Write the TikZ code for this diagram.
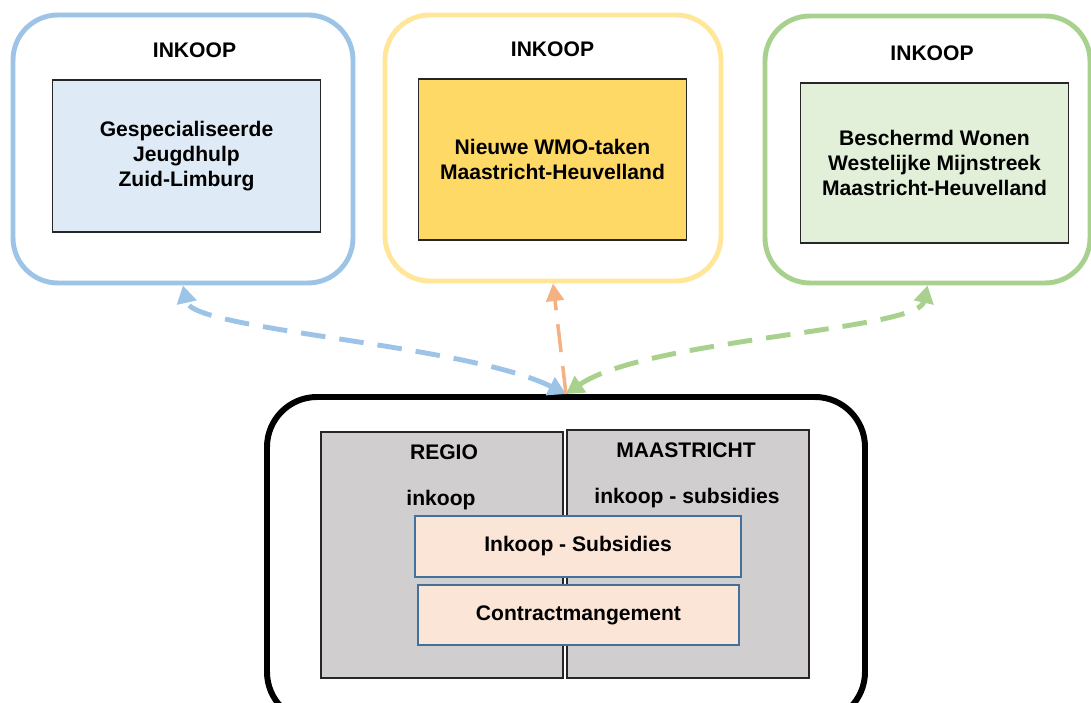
\documentclass[tikz,border=0pt]{standalone}
\usepackage{fontspec}
\setmainfont{Liberation Sans}
\usetikzlibrary{positioning,arrows.meta}
\definecolor{blueline}{HTML}{9DC3E6}
\definecolor{yellowline}{HTML}{FFE699}
\definecolor{greenline}{HTML}{A9D18E}
\definecolor{orangeline}{HTML}{F4B183}
\definecolor{bluefill}{HTML}{DEEBF7}
\definecolor{yellowfill}{HTML}{FFD966}
\definecolor{greenfill}{HTML}{E2F0D9}
\definecolor{grayfill}{HTML}{D0CECE}
\definecolor{taskfill}{HTML}{FBE5D6}
\definecolor{taskline}{HTML}{41719C}

\begin{document}
\begin{tikzpicture}[font=\bfseries\fontsize{12}{14.2}\selectfont]
  \tikzstyle{frame}=[draw,line width=2.8pt,rounded corners=0.9cm]
  \tikzstyle{box}=[draw=black!85,line width=0.6pt,align=center,minimum width=5.36cm]
  \tikzstyle{part}=[draw=black!85,line width=0.7pt,fill=grayfill,minimum width=4.84cm]
  \tikzstyle{task}=[draw=taskline,line width=0.8pt,fill=taskfill,minimum height=1.2cm]
  \tikzstyle{link}=[line width=2.8pt,dash pattern=on 14pt off 8pt]
  \useasboundingbox (0,0) rectangle (21.82,14.06);
  \node[frame,draw=blueline,minimum width=6.8cm,minimum height=5.36cm] (fjh) at (3.66,11.08) {};
  \node[frame,draw=yellowline,minimum width=6.72cm,minimum height=5.32cm] (fwmo) at (11.06,11.10) {};
  \node[frame,draw=greenline,minimum width=6.5cm,minimum height=5.34cm] (fbw) at (18.55,11.07) {};
  \node[box,fill=bluefill,minimum height=3.04cm] (jh) at (3.73,10.94) {Gespecialiseerde\\Jeugdhulp\\Zuid-Limburg};
  \node[box,fill=yellowfill,minimum height=3.22cm] (wmo) at (11.05,10.87) {Nieuwe WMO-taken\\Maastricht-Heuvelland};
  \node[box,fill=greenfill,minimum height=3.2cm] (bw) at (18.69,10.80) {Beschermd Wonen\\Westelijke Mijnstreek\\Maastricht-Heuvelland};
  \node (tjh) [above=0.31cm of jh, xshift=0.16cm] {INKOOP};
  \node (twmo) [above=0.31cm of wmo] {INKOOP};
  \node (tbw) [above=0.31cm of bw, xshift=-0.05cm] {INKOOP};
  \node[frame,draw=black,line width=3.4pt,rounded corners=1cm,minimum width=11.96cm,minimum height=6.5cm] (bot) at (11.32,2.87) {};
  \node[part,minimum height=4.92cm] (regio) at (8.84,2.96) {};
  \node[part,minimum height=4.96cm] (mstr) at (13.76,2.98) {};
  \node (tregio) at (8.88,5.02) {REGIO};
  \node (iregio) at (8.82,4.06) {inkoop};
  \node (tmstr) at (13.72,5.06) {MAASTRICHT};
  \node (imstr) at (13.74,4.10) {inkoop - subsidies};
  \node[task,minimum width=6.52cm,minimum height=1.22cm] (ins) at (11.56,3.13) {Inkoop - Subsidies};
  \node[task,minimum width=6.42cm] (cm) at (11.57,1.76) {Contractmangement};
  \draw[link,blueline,{Triangle[length=10pt,width=11pt]}-{Triangle[length=10pt,width=11pt]}] (bot.north) .. controls +(-2.0,1.0) and +(0.2,-0.9) .. (fjh.south);
  \draw[link,greenline,{Triangle[length=10pt,width=11pt]}-{Triangle[length=10pt,width=11pt]}] (bot.north) .. controls +(1.6,1.1) and +(-0.2,-0.9) .. (fbw.south);
  \draw[line width=2pt,orangeline,dash pattern=on 16pt off 8pt,-{Triangle[length=10pt,width=10pt]}] (bot.north) -- (fwmo.south);
\end{tikzpicture}
\end{document}
